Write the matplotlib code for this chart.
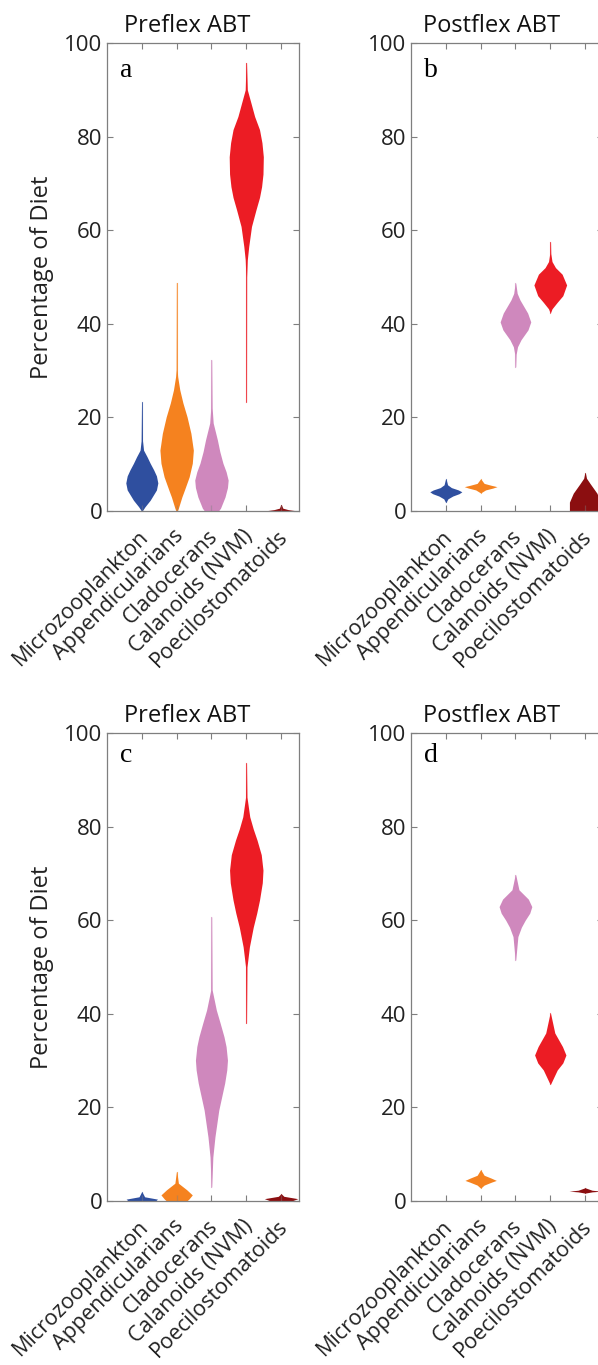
import numpy as np
import matplotlib
matplotlib.use("Agg")
import matplotlib.pyplot as plt
import matplotlib.transforms as mtransforms

plt.rcParams['font.family'] = ['Open Sans', 'DejaVu Sans']

categories = ['Microzooplankton', 'Appendicularians', 'Cladocerans',
              'Calanoids (NVM)', 'Poecilostomatoids']
colors = ['#2f4f9f', '#f5821f', '#cf88bd', '#ec1c24', '#8b0e10']
titles = ['Preflex ABT', 'Postflex ABT', 'Preflex ABT', 'Postflex ABT']
panel_tags = ['a', 'b', 'c', 'd']
yticks = [0, 20, 40, 60, 80, 100]

# violin outlines: percentage levels and half widths (category units)
panel_a = [
    ([0, 0.9, 2.3, 4.5, 6.0, 7.5, 8.8, 10.2, 11.6, 13.0, 15.0, 23.3],
     [0.01, 0.09, 0.24, 0.42, 0.46, 0.42, 0.34, 0.24, 0.15, 0.05, 0.02, 0.008]),
    ([0, 0.6, 3.0, 4.4, 7.3, 10.2, 13.0, 16.6, 20.1, 23.1, 25.9, 28.7, 30.2, 48.8],
     [0.02, 0.05, 0.15, 0.22, 0.36, 0.45, 0.48, 0.41, 0.3, 0.18, 0.09, 0.03, 0.015, 0.008]),
    ([0, 0.6, 3.0, 5.0, 6.6, 8.4, 10.2, 12.7, 15.2, 18.8, 22.0, 32.3],
     [0.2, 0.26, 0.39, 0.46, 0.48, 0.42, 0.33, 0.24, 0.17, 0.05, 0.02, 0.008]),
    ([23.3, 50.0, 53.7, 56.5, 60.8, 64.4, 67.0, 69.3, 72.0, 75.7, 78.7, 81.5, 84.3, 87.3, 90.0, 95.8],
     [0.008, 0.012, 0.03, 0.07, 0.15, 0.28, 0.38, 0.44, 0.48, 0.49, 0.45, 0.38, 0.24, 0.13, 0.03, 0.008]),
    ([0, 0.3, 0.6, 1.3],
     [0.48, 0.2, 0.05, 0.01]),
]
panel_b = [
    ([1.9, 2.6, 3.2, 3.7, 4.1, 4.5, 5.0, 5.6, 6.8],
     [0.01, 0.06, 0.2, 0.38, 0.46, 0.36, 0.16, 0.05, 0.01]),
    ([3.9, 4.5, 4.9, 5.2, 5.5, 5.9, 6.8],
     [0.01, 0.14, 0.35, 0.47, 0.3, 0.1, 0.01]),
    ([30.8, 33.5, 35.1, 36.6, 38.7, 40.4, 42.3, 45.1, 46.5, 48.7],
     [0.008, 0.02, 0.06, 0.16, 0.36, 0.44, 0.35, 0.13, 0.05, 0.008]),
    ([42.4, 43.2, 44.6, 46.0, 48.3, 50.6, 52.0, 53.3, 55.0, 57.5],
     [0.008, 0.05, 0.2, 0.36, 0.47, 0.34, 0.15, 0.05, 0.015, 0.008]),
    ([0, 1.9, 3.8, 5.9, 7.0, 8.1],
     [0.45, 0.45, 0.34, 0.14, 0.04, 0.01]),
]
panel_c = [
    ([0.05, 0.4, 0.9, 1.9],
     [0.4, 0.45, 0.08, 0.01]),
    ([0, 0.4, 1.3, 2.4, 3.8, 6.2],
     [0.29, 0.35, 0.45, 0.29, 0.05, 0.008]),
    ([3.0, 9.4, 13.7, 19.4, 25.2, 28.0, 30.1, 33.0, 35.1, 38.0, 40.8, 45.1, 60.7],
     [0.008, 0.04, 0.1, 0.21, 0.38, 0.44, 0.46, 0.42, 0.36, 0.25, 0.14, 0.02, 0.008]),
    ([38.0, 50.0, 54.3, 58.5, 61.5, 64.3, 68.0, 70.7, 74.0, 77.1, 79.5, 82.1, 86.3, 93.6],
     [0.008, 0.02, 0.09, 0.2, 0.3, 0.38, 0.46, 0.48, 0.43, 0.31, 0.2, 0.1, 0.02, 0.008]),
    ([0, 0.5, 1.0, 1.5],
     [0.3, 0.48, 0.08, 0.01]),
]
panel_d = [
    ([], []),
    ([2.8, 3.4, 4.0, 4.4, 4.9, 5.5, 6.6],
     [0.01, 0.1, 0.3, 0.45, 0.3, 0.1, 0.01]),
    ([51.5, 56.5, 58.5, 60.0, 61.5, 62.9, 64.5, 66.5, 69.7],
     [0.008, 0.07, 0.17, 0.28, 0.41, 0.47, 0.37, 0.1, 0.008]),
    ([25.0, 28.0, 29.5, 31.2, 33.0, 35.9, 40.1],
     [0.01, 0.2, 0.36, 0.45, 0.35, 0.13, 0.008]),
    ([1.7, 1.95, 2.1, 2.3, 2.8],
     [0.01, 0.2, 0.46, 0.2, 0.01]),
]
panels = [panel_a, panel_b, panel_c, panel_d]

W, H = 598, 1365
fig = plt.figure(figsize=(W / 100, H / 100), dpi=100)

# axes boxes in pixels: left, top
boxes = [(107, 43), (411, 43), (107, 733), (411, 733)]
aw, ah = 191.5, 468
tag_y = [0.927, 0.927, 0.938, 0.938]
spine_col = '#7f7f7f'

for i, (left, top) in enumerate(boxes):
    ax = fig.add_axes([left / W, 1 - (top + ah) / H, aw / W, ah / H])
    for j, (ys, ws) in enumerate(panels[i]):
        if len(ys) == 0:
            continue
        ys = np.array(ys)
        ws = np.array(ws)
        pos = j + 1
        ax.fill_betweenx(ys, pos - ws, pos + ws, color=colors[j], lw=0)
        ax.plot([pos, pos], [ys.min(), ys.max()], color=colors[j], lw=0.8, alpha=0.6)

    ax.set_xlim(0, 5.5)
    ax.set_ylim(0, 100)
    ax.set_yticks(yticks)
    ax.set_xticks(range(1, 6))
    ax.set_xticklabels(categories, rotation=45, ha='right', va='center',
                       rotation_mode='anchor', fontsize=15.5, color='#222222')
    ax.tick_params(axis='both', direction='in', length=4, width=0.8, color=spine_col,
                   top=True, right=True, labelsize=16, labelcolor='#222222')
    ax.tick_params(axis='x', pad=16, labelsize=15.5)
    offset = mtransforms.ScaledTranslation(2.5 / 72, 0, fig.dpi_scale_trans)
    for lab in ax.get_xticklabels():
        lab.set_transform(lab.get_transform() + offset)
    for sp in ax.spines.values():
        sp.set_color(spine_col)
        sp.set_linewidth(0.9)

    ax.annotate(titles[i], xy=(0.42, 1.0), xycoords='axes fraction',
                xytext=(0, 8), textcoords='offset points',
                ha='center', va='baseline', fontsize=17, color='#111111')
    ax.text(0.07, tag_y[i], panel_tags[i], transform=ax.transAxes,
            fontsize=20, family='Liberation Serif', va='baseline', ha='left')
    if i % 2 == 0:
        ax.set_ylabel('Percentage of Diet', fontsize=17, color='#222222')
        ax.yaxis.set_label_coords(-0.277, 0.5)

fig.savefig('out.png', dpi=100)
